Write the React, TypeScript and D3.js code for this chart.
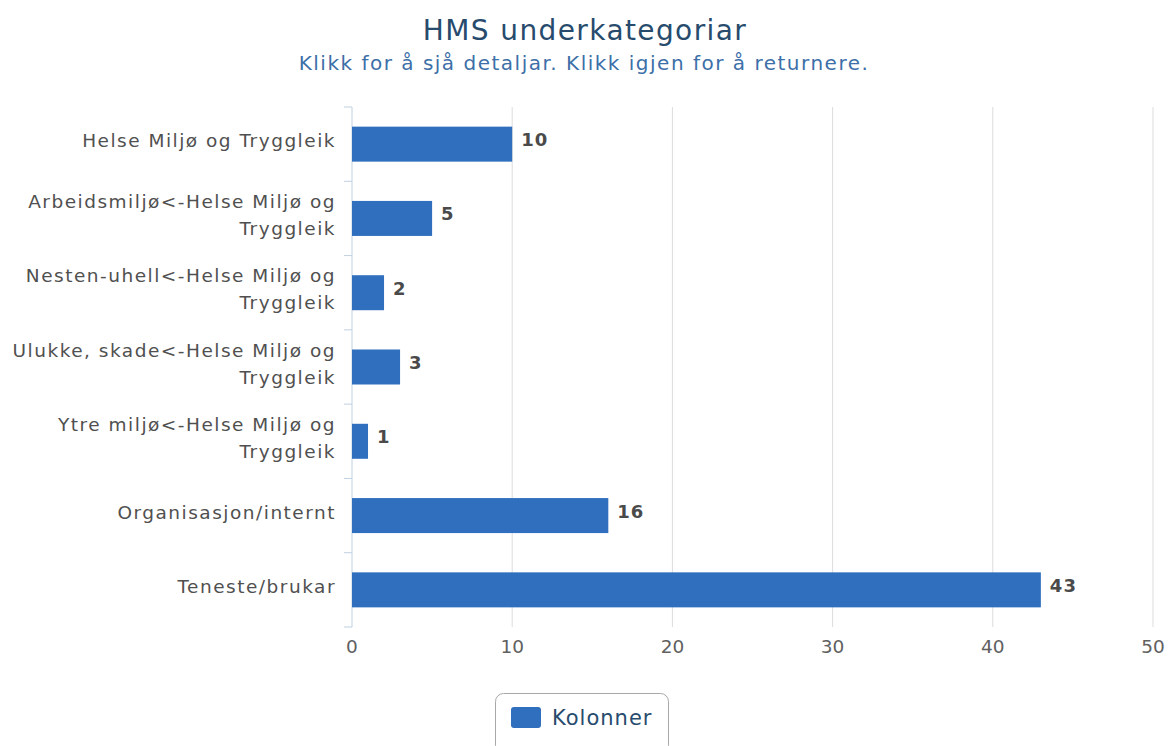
import React from "react";
import * as d3 from "d3";

const categories: string[][] = [
  ["Helse Miljø og Tryggleik"],
  ["Arbeidsmiljø<-Helse Miljø og", "Tryggleik"],
  ["Nesten-uhell<-Helse Miljø og", "Tryggleik"],
  ["Ulukke, skade<-Helse Miljø og", "Tryggleik"],
  ["Ytre miljø<-Helse Miljø og", "Tryggleik"],
  ["Organisasjon/internt"],
  ["Teneste/brukar"],
];
const values: number[] = [10, 5, 2, 3, 1, 16, 43];
const xTicks: number[] = [0, 10, 20, 30, 40, 50];
const title = "HMS underkategoriar";
const subtitle = "Klikk for å sjå detaljar. Klikk igjen for å returnere.";
const seriesName = "Kolonner";

const W = 1168;
const H = 746;
const FONT = "'DejaVu Sans', Verdana, sans-serif";
const BAR = "#2f6fbd";

export default function App() {
  const left = 352;
  const right = 1153;
  const top = 107;
  const bottom = 627;
  const x = d3.scaleLinear().domain([0, 50]).range([left, right]);
  const idx = categories.map((_, i) => i);
  const y = d3.scaleBand<number>().domain(idx).range([top, bottom]).paddingInner(0).paddingOuter(0);
  const bw = y.bandwidth();
  const barH = 35;
  const boundaries = d3.range(categories.length + 1).map((i) => top + i * bw);

  return (
    <svg width={W} height={H} style={{ position: "absolute", left: 0, top: 0, background: "#fff" }} fontFamily={FONT}>
      <rect x={0} y={0} width={W} height={H} fill="#fff" />
      <text x={W / 2 + 1} y={40} textAnchor="middle" fontSize={28} letterSpacing={1.4} fill="#274b6d">{title}</text>
      <text x={W / 2} y={70} textAnchor="middle" fontSize={20} letterSpacing={1.5} fill="#3d6fa8">{subtitle}</text>

      {xTicks.filter((t) => t > 0).map((t) => (
        <line key={"g" + t} x1={x(t)} x2={x(t)} y1={top} y2={bottom} stroke="#dcdcdc" strokeWidth={1} />
      ))}
      <line x1={left} x2={left} y1={top} y2={bottom} stroke="#c0d0e0" strokeWidth={1} />
      {boundaries.map((b, i) => (
        <line key={"t" + i} x1={left - 8} x2={left} y1={b} y2={b} stroke="#c0d0e0" strokeWidth={1} />
      ))}

      {values.map((v, i) => {
        const cy = (y(i) as number) + bw / 2;
        return (
          <g key={"b" + i}>
            <rect x={x(0)} y={cy - barH / 2} width={x(v) - x(0)} height={barH} fill={BAR} />
            <text x={x(v) + 9} y={cy - 3} dominantBaseline="middle" fontSize={18} fontWeight="bold" letterSpacing={1} fill="#4a4a4a">{v}</text>
          </g>
        );
      })}

      {categories.map((lines, i) => {
        const cy = (y(i) as number) + bw / 2;
        const lh = 27;
        const start = cy - ((lines.length - 1) * lh) / 2 - 2;
        return (
          <text key={"l" + i} textAnchor="end" fontSize={18.5} letterSpacing={1.5} fill="#505050">
            {lines.map((ln, j) => (
              <tspan key={j} x={left - 16} y={start + j * lh} dominantBaseline="middle">{ln}</tspan>
            ))}
          </text>
        );
      })}

      {xTicks.map((t) => (
        <text key={"x" + t} x={x(t)} y={648} textAnchor="middle" dominantBaseline="middle" fontSize={18.5} fill="#606060">{t}</text>
      ))}

      <rect x={495.5} y={693.5} width={173} height={60} rx={8} fill="#fff" stroke="#a8a8a8" strokeWidth={1} />
      <rect x={511} y={707} width={30} height={21} rx={3} fill={BAR} />
      <text x={552} y={719} dominantBaseline="middle" fontSize={21} letterSpacing={1} fill="#274b6d">{seriesName}</text>
    </svg>
  );
}
